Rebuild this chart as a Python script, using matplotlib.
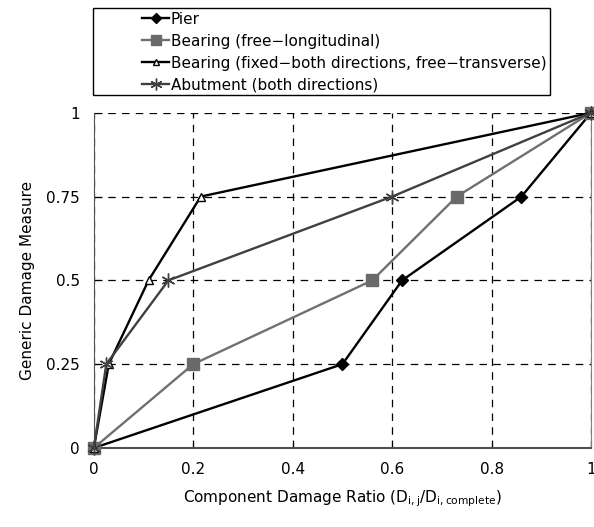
import numpy as np
import matplotlib.pyplot as plt
from matplotlib.patches import Rectangle

# data
pier_x = [0, 0.5, 0.62, 0.86, 1]
pier_y = [0, 0.25, 0.5, 0.75, 1]
bfree_x = [0, 0.2, 0.56, 0.73, 1]
bfree_y = [0, 0.25, 0.5, 0.75, 1]
bfix_x = [0, 0.03, 0.11, 0.215, 1]
bfix_y = [0, 0.25, 0.5, 0.75, 1]
abut_x = [0, 0.025, 0.15, 0.6, 1]
abut_y = [0, 0.25, 0.5, 0.75, 1]

labels = ['Pier', 'Bearing (free\u2212longitudinal)',
          'Bearing (fixed\u2212both directions, free\u2212transverse)',
          'Abutment (both directions)']

plt.rcParams['font.family'] = 'DejaVu Sans'
plt.rcParams['font.size'] = 11

fig = plt.figure(figsize=(5.94, 5.27), dpi=100)
ax = fig.add_axes([0.158, 0.15, 0.837, 0.636])

l1, = ax.plot(pier_x, pier_y, color='black', lw=1.7, marker='D', ms=6, mfc='black', mec='black')
l2, = ax.plot(bfree_x, bfree_y, color='#707070', lw=1.7, marker='s', ms=8.5, mfc='#6a6a6a', mec='#6a6a6a')
l3, = ax.plot(bfix_x, bfix_y, color='black', lw=1.7, marker='^', ms=5.5, mfc='white', mec='black', mew=1)
l4, = ax.plot(abut_x, abut_y, color='#404040', lw=1.7, marker=(6, 2, 0), ms=10, mec='#404040', mew=1)

ax.set_xlim(0, 1)
ax.set_ylim(0, 1)
ax.set_xticks([0, 0.2, 0.4, 0.6, 0.8, 1])
ax.set_xticklabels(['0', '0.2', '0.4', '0.6', '0.8', '1'])
ax.set_yticks([0, 0.25, 0.5, 0.75, 1])
ax.set_yticklabels(['0', '0.25', '0.5', '0.75', '1'])
ax.tick_params(direction='in', length=6, pad=10, color='black')
ax.grid(True, color='black', linestyle=(0, (6, 5)), lw=0.9)
for l in [l1, l2, l3, l4]:
    l.set_zorder(3)
    l.set_clip_on(False)
ax.spines['top'].set_visible(False)
ax.spines['right'].set_color('#808080')
ax.spines['bottom'].set_color('#505050')
ax.spines['bottom'].set_linewidth(1.5)
ax.spines['left'].set_color('#505050')

ax.set_xlabel('Component Damage Ratio (D$_{\\mathregular{i,j}}$/D$_{\\mathregular{i,complete}}$)', labelpad=8)
ax.set_ylabel('Generic Damage Measure', labelpad=8)

# legend box above the plot
fig.patches.append(Rectangle((93 / 594, 1 - 95 / 527), (550 - 93) / 594, (95 - 8) / 527,
                             transform=fig.transFigure, fill=False, edgecolor='black', lw=1))
fig.legend([l1, l2, l3, l4], labels, loc='upper left', bbox_to_anchor=(138 / 594, 1 - 8 / 527),
           frameon=False, handlelength=1.8, handletextpad=0.1, labelspacing=0.45,
           borderaxespad=0, borderpad=0.25, fontsize=11, markerscale=0.85)

plt.savefig('out.png', dpi=100)
